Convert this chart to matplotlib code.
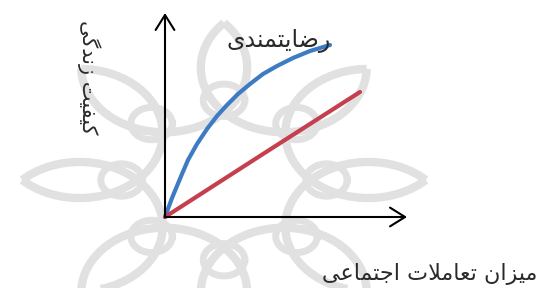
import numpy as np
import matplotlib.pyplot as plt
from matplotlib.patches import FancyArrowPatch

# concept chart: quality of life vs. amount of social interaction
blue_x = [0, 7, 12, 17, 23, 32, 42, 52, 62, 73, 85, 98, 112, 128, 145, 165]
blue_y = [0, 19, 31, 43, 57, 73, 88, 101, 112, 123, 133, 143, 151, 159, 166, 172]
red_x = [0, 98, 195]
red_y = [0, 63, 125]

curve_label = "رضایتمندی"
x_label = "میزان تعاملات اجتماعی"
y_label = "کیفیت زندگی"

# contextual forms: isolated, final, initial, medial (None = no forward join)
FORMS = {
    "ا": ("\uFE8D", "\uFE8E", None, None),
    "ت": ("\uFE95", "\uFE96", "\uFE97", "\uFE98"),
    "ج": ("\uFE9D", "\uFE9E", "\uFE9F", "\uFEA0"),
    "د": ("\uFEA9", "\uFEAA", None, None),
    "ر": ("\uFEAD", "\uFEAE", None, None),
    "ز": ("\uFEAF", "\uFEB0", None, None),
    "ض": ("\uFEBD", "\uFEBE", "\uFEBF", "\uFEC0"),
    "ع": ("\uFEC9", "\uFECA", "\uFECB", "\uFECC"),
    "ف": ("\uFED1", "\uFED2", "\uFED3", "\uFED4"),
    "ک": ("\uFB8E", "\uFB8F", "\uFB90", "\uFB91"),
    "گ": ("\uFB92", "\uFB93", "\uFB94", "\uFB95"),
    "ل": ("\uFEDD", "\uFEDE", "\uFEDF", "\uFEE0"),
    "م": ("\uFEE1", "\uFEE2", "\uFEE3", "\uFEE4"),
    "ن": ("\uFEE5", "\uFEE6", "\uFEE7", "\uFEE8"),
    "ی": ("\uFBFC", "\uFBFD", "\uFBFE", "\uFBFF"),
}
LAM_ALEF = ("\uFEFB", "\uFEFC")


def shape(text):
    # matplotlib has no arabic shaping, so pick glyph forms and reverse
    chars = []
    i = 0
    while i < len(text):
        if text[i] == "ل" and text[i + 1:i + 2] == "ا":
            chars.append("لا")
            i += 2
        else:
            chars.append(text[i])
            i += 1

    def joins_fwd(c):
        return c in FORMS and FORMS[c][2] is not None

    out = []
    for k, c in enumerate(chars):
        prev = chars[k - 1] if k > 0 else None
        nxt = chars[k + 1] if k + 1 < len(chars) else None
        p = prev is not None and joins_fwd(prev)
        if c == "لا":
            out.append(LAM_ALEF[1] if p else LAM_ALEF[0])
            continue
        if c not in FORMS:
            out.append(c)
            continue
        iso, fin, ini, med = FORMS[c]
        n = ini is not None and (nxt in FORMS or nxt == "لا")
        if p and n:
            out.append(med)
        elif p:
            out.append(fin)
        elif n:
            out.append(ini)
        else:
            out.append(iso)
    return "".join(reversed(out))


def watermark(ax, cx, cy, sx, sy, D=128, r=68, ring_d=84, ring_r=17):
    # rough stand-in for the faint rosette logo behind the chart
    gray = "#e1e1e1"
    half = np.pi / 8
    t_out = D * np.cos(half) + np.sqrt(r ** 2 - (D * np.sin(half)) ** 2)
    for k in range(8):
        c = half + k * np.pi / 4
        ox, oy = D * np.cos(c), D * np.sin(c)
        rel = []
        for tip in (c - half, c + half):
            phi = np.arctan2(t_out * np.sin(tip) - oy, t_out * np.cos(tip) - ox)
            rel.append((phi - c - np.pi + np.pi) % (2 * np.pi) - np.pi)
        phis = np.linspace(min(rel), max(rel), 60) + c + np.pi
        ax.plot(cx + sx * (ox + r * np.cos(phis)), cy + sy * (oy + r * np.sin(phis)),
                color=gray, lw=6, solid_capstyle="butt", zorder=0)
        a = k * np.pi / 4
        t = np.linspace(0, 2 * np.pi, 60)
        ax.plot(cx + sx * (ring_d * np.cos(a) + ring_r * np.cos(t)),
                cy + sy * (ring_d * np.sin(a) + ring_r * np.sin(t)),
                color=gray, lw=5, zorder=0)


fig = plt.figure(figsize=(5.37, 2.88), dpi=100)
ax = fig.add_axes([0, 0, 1, 1])
ax.set_xlim(-165, 372)
ax.set_ylim(-71, 217)
ax.set_aspect("equal")
ax.axis("off")

watermark(ax, 59, 37, 1.22, 0.95)

for end in [(242, 0), (0, 204)]:
    ax.add_patch(FancyArrowPatch((0, 0), end, arrowstyle="->,head_length=0.4,head_width=0.25",
                                 mutation_scale=27, lw=1.5, color="black",
                                 shrinkA=0, shrinkB=0, zorder=3))

ax.plot(blue_x, blue_y, color="#3d7cc4", lw=3, solid_capstyle="round", zorder=2)
ax.plot(red_x, red_y, color="#c63f4e", lw=3, solid_capstyle="round", zorder=2)

ax.text(114, 176, shape(curve_label), ha="center", va="center", fontsize=17, color="#2a2a2a")
ax.text(265, -57, shape(x_label), ha="center", va="center", fontsize=16, color="#2a2a2a")
ax.text(-76, 140, shape(y_label), ha="center", va="center", fontsize=15, color="#2a2a2a",
        rotation=270)

fig.savefig("out.png", dpi=100)
